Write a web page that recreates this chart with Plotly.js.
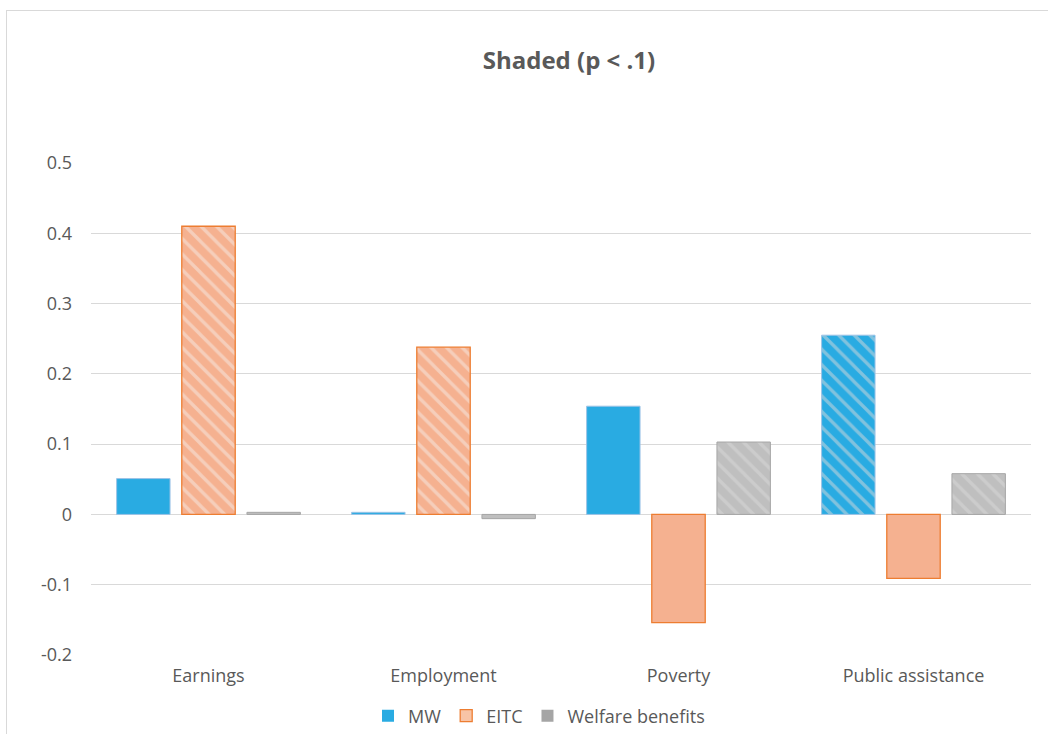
<!DOCTYPE html>
<html>
<head>
<meta charset="utf-8">
<script src="https://cdn.plot.ly/plotly-3.0.1.min.js"></script>
<style>
  html, body { margin: 0; padding: 0; background: #ffffff; }
  #chart { width: 1048px; height: 734px; }
  #frame { position: absolute; left: 6px; top: 10px; width: 1100px; height: 800px;
           border: 1px solid #d9d9d9; pointer-events: none; box-sizing: border-box; }
</style>
</head>
<body>
<div id="chart"></div>
<div id="frame"></div>
<script>
// Outcome categories along the x axis
const categories = ["Earnings", "Employment", "Poverty", "Public assistance"];

// Estimated effects per policy
const mwValues      = [0.051, 0.003, 0.154, 0.255];
const eitcValues    = [0.410, 0.238, -0.154, -0.091];
const welfareValues = [0.003, -0.006, 0.103, 0.058];

// Significant at p < .1 (drawn hatched)
const mwSig      = [false, false, false, true];
const eitcSig    = [true, true, false, false];
const welfareSig = [false, false, true, true];

const yTicks = [-0.2, -0.1, 0, 0.1, 0.2, 0.3, 0.4, 0.5];
const yTickText = ["-0.2", "-0.1", "0", "0.1", "0.2", "0.3", "0.4", "0.5"];

const FONT = "'Open Sans', 'Noto Sans', sans-serif";

function hatch(sig, stripe) {
  return {
    fillmode: "overlay",
    shape: sig.map(s => s ? "\\" : ""),
    fgcolor: stripe,
    size: 11,
    solidity: 0.3
  };
}

const traces = [
  {
    type: "bar", name: "MW", x: categories, y: mwValues, showlegend: false,
    marker: { color: "#29ABE2", line: { color: "#9DC3E6", width: 1 },
              pattern: hatch(mwSig, "#d9d9d9") },
    hoverinfo: "x+y"
  },
  {
    type: "bar", name: "EITC", x: categories, y: eitcValues, showlegend: false,
    marker: { color: "#F5B190", line: { color: "#ED7D31", width: 1.3 },
              pattern: hatch(eitcSig, "#f6ece6") },
    hoverinfo: "x+y"
  },
  {
    type: "bar", name: "Welfare benefits", x: categories, y: welfareValues, showlegend: false,
    marker: { color: "#BFBFBF", line: { color: "#A6A6A6", width: 1 },
              pattern: hatch(welfareSig, "#d9d9d9") },
    hoverinfo: "x+y"
  },
  // Legend entries, on a hidden overlaid axis so they do not take bar slots
  { type: "bar", name: "MW", x: [categories[0]], y: [null], xaxis: "x2",
    marker: { color: "#29ABE2" } },
  { type: "bar", name: "EITC", x: [categories[0]], y: [null], xaxis: "x2",
    marker: { color: "#F8C4A6", line: { color: "#ED7D31", width: 1.3 } } },
  { type: "bar", name: "Welfare benefits", x: [categories[0]], y: [null], xaxis: "x2",
    marker: { color: "#A5A5A5" } }
];

const layout = {
  width: 1048, height: 734,
  margin: { l: 91, r: 17, t: 163, b: 79 },
  paper_bgcolor: "#ffffff", plot_bgcolor: "#ffffff",
  font: { family: FONT, size: 18, color: "#595959" },
  title: {
    text: "<b>Shaded (p < .1)</b>",
    font: { family: FONT, size: 24, color: "#595959" },
    xref: "paper", x: 0.5085, xanchor: "center",
    yref: "container", y: 0.918, yanchor: "middle"
  },
  barmode: "group",
  bargap: 0.168,
  bargroupgap: 0.18,
  xaxis: {
    type: "category", categoryarray: categories, categoryorder: "array",
    showgrid: false, zeroline: false, showline: false, ticks: "",
    automargin: false,
    ticklabelstandoff: 8,
    tickfont: { family: FONT, size: 18, color: "#595959" }
  },
  xaxis2: {
    overlaying: "x", type: "category", categoryarray: categories, categoryorder: "array",
    visible: false, showgrid: false, zeroline: false
  },
  yaxis: {
    range: [-0.2, 0.5], tickvals: yTicks, ticktext: yTickText,
    showgrid: true, gridcolor: "#d9d9d9", gridwidth: 1,
    zeroline: true, zerolinecolor: "#d9d9d9", zerolinewidth: 1,
    showline: false, ticks: "", automargin: false,
    ticklabelstandoff: 18,
    tickfont: { family: FONT, size: 18, color: "#595959" }
  },
  legend: {
    orientation: "h", xref: "paper", x: 0.4766, xanchor: "center",
    yref: "container", y: 0.0245, yanchor: "middle",
    font: { family: FONT, size: 18, color: "#595959" },
    itemwidth: 30, traceorder: "normal"
  },
  showlegend: true
};

Plotly.newPlot("chart", traces, layout, { displayModeBar: false, staticPlot: true });
</script>
</body>
</html>
